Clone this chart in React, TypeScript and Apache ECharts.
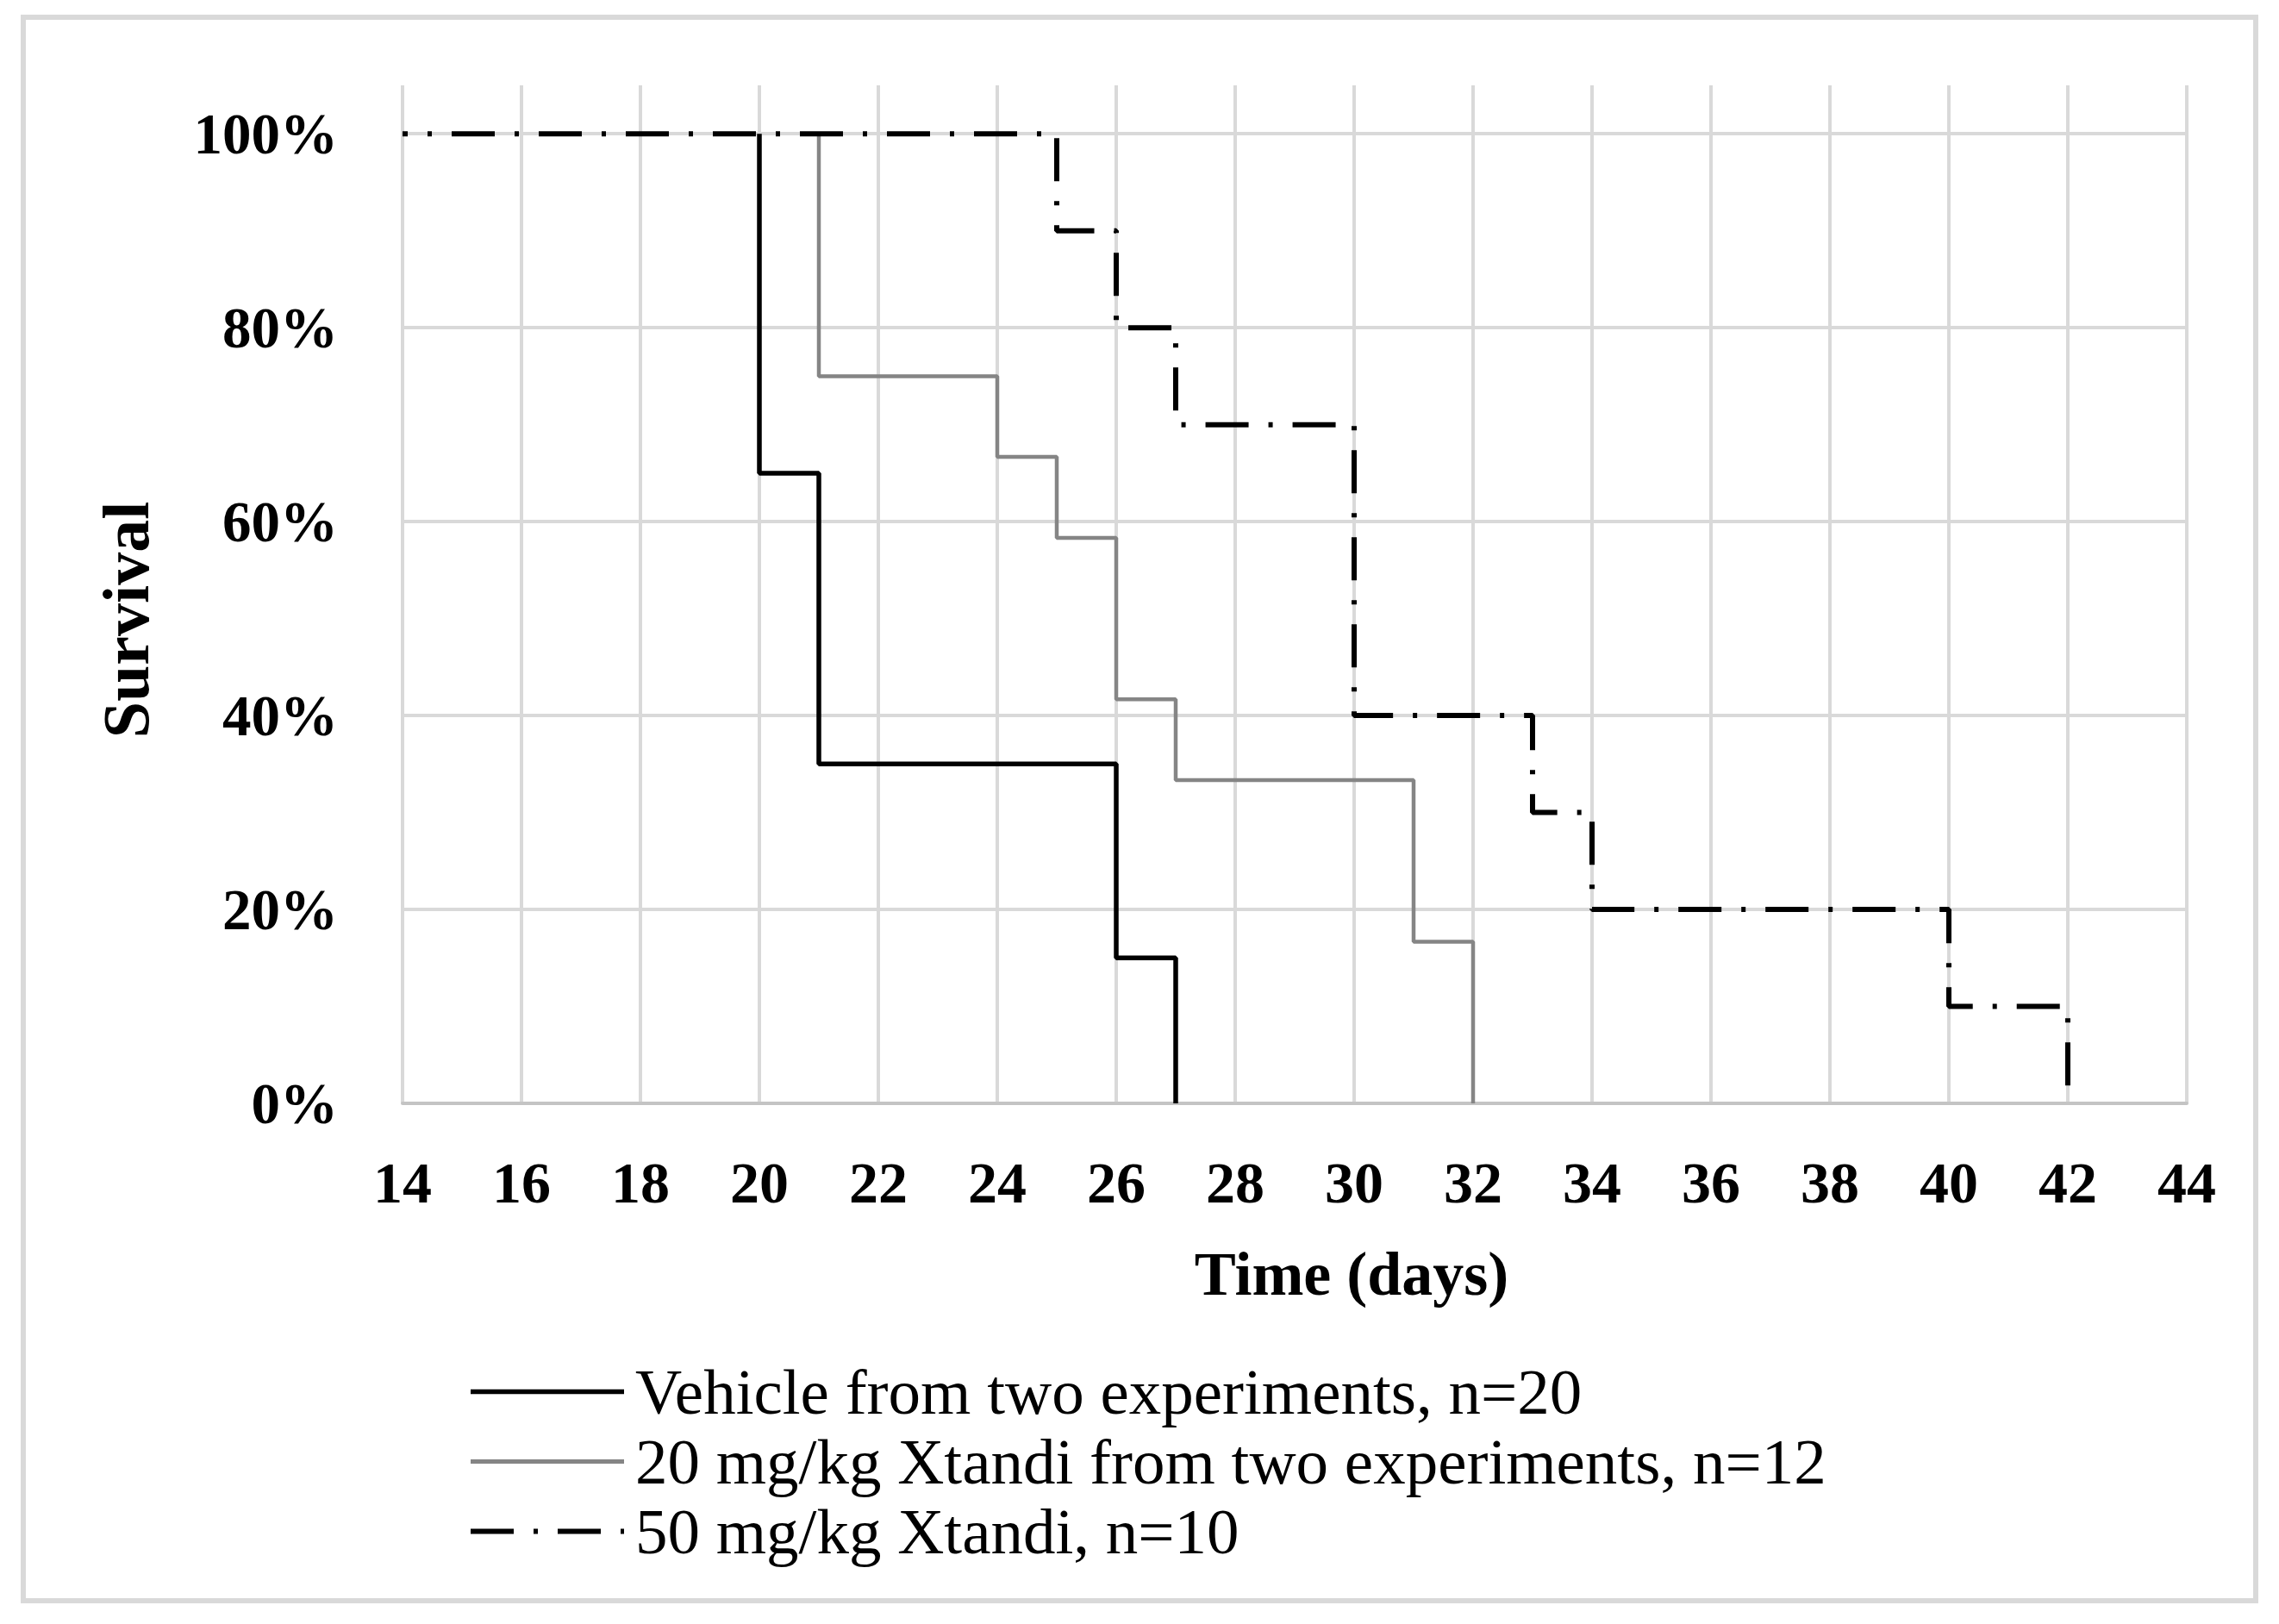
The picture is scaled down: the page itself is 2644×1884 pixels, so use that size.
import React, { useEffect, useRef } from "react";
import * as echarts from "echarts";

// ---- data ----
const xMin = 14;
const xMax = 44;
const xStep = 2;
const yTicks = [0, 0.2, 0.4, 0.6, 0.8, 1.0];

const seriesNames = [
  "Vehicle from two experiments, n=20",
  "20 mg/kg Xtandi from two experiments, n=12",
  "50 mg/kg Xtandi, n=10",
];

// Kaplan–Meier steps: curve starts at (start, 100%), then drops at each event day
const vehicleStart = 20;
const vehicleDays = [20, 21, 26, 27];
const vehicleSurvival = [0.65, 0.35, 0.15, 0];

const x20Start = 21;
const x20Days = [21, 24, 25, 26, 27, 31, 32];
const x20Survival = [0.75, 0.6667, 0.5833, 0.4167, 0.3333, 0.1667, 0];

const x50Start = 14;
const x50Days = [25, 26, 27, 30, 33, 34, 40, 42];
const x50Survival = [0.9, 0.8, 0.7, 0.4, 0.3, 0.2, 0.1, 0];

const build = (start: number, days: number[], surv: number[]) => [
  [start, 1],
  ...days.map((d, i) => [d, surv[i]]),
];

const FONT = "Liberation Serif";
const GRID = "#d9d9d9";
const GRAY = "#858585";
const DASHDOT = [50, 23, 5, 23];

export default function App() {
  const ref = useRef<HTMLDivElement>(null);
  useEffect(() => {
    if (!ref.current) return;
    const chart = echarts.init(ref.current, undefined, { renderer: "svg" });
    chart.setOption({
      animation: false,
      backgroundColor: "#ffffff",
      grid: { left: 467, right: 107, top: 99, bottom: 604, containLabel: false },
      xAxis: {
        type: "value",
        min: xMin,
        max: xMax,
        interval: xStep,
        axisLine: { show: true, lineStyle: { color: "#c4c4c4", width: 4 } },
        axisTick: { show: false },
        axisLabel: {
          margin: 58,
          color: "#000",
          fontFamily: FONT,
          fontWeight: "bold",
          fontSize: 68,
        },
        splitLine: { show: true, lineStyle: { color: GRID, width: 4 } },
      },
      yAxis: {
        type: "value",
        min: 0,
        max: 1.05,
        interval: 0.2,
        axisLine: { show: false },
        axisTick: { show: false },
        axisLabel: {
          margin: 75,
          color: "#000",
          fontFamily: FONT,
          fontWeight: "bold",
          fontSize: 67,
          showMaxLabel: false,
          formatter: (v: number) =>
            yTicks.some((t) => Math.abs(t - v) < 1e-6) ? Math.round(v * 100) + "%" : "",
        },
        splitLine: { show: true, showMaxLine: false, lineStyle: { color: GRID, width: 4 } },
      },
      legend: {
        show: true,
        orient: "vertical",
        left: 538,
        top: 1569,
        itemWidth: 178,
        itemHeight: 20,
        itemGap: 0,
        itemStyle: { color: "rgba(0,0,0,0)", borderWidth: 0, opacity: 0 },
        textStyle: {
          color: "#000",
          fontFamily: FONT,
          fontSize: 75,
          lineHeight: 81,
          padding: [0, 0, 0, 8],
        },
        data: [
          {
            name: seriesNames[0],
            itemStyle: { opacity: 0 },
            lineStyle: { color: "#000", width: 5.5, type: "solid", opacity: 1 },
          },
          {
            name: seriesNames[1],
            itemStyle: { opacity: 0 },
            lineStyle: { color: GRAY, width: 5, type: "solid", opacity: 1 },
          },
          {
            name: seriesNames[2],
            itemStyle: { opacity: 0 },
            lineStyle: { color: "#000", width: 6, type: DASHDOT, dashOffset: 0, opacity: 1 },
          },
        ],
      },
      series: [
        {
          name: seriesNames[1],
          type: "line",
          step: "end",
          symbol: "none",
          z: 3,
          lineStyle: { color: GRAY, width: 4.5, type: "solid", cap: "butt" },
          itemStyle: { color: GRAY },
          data: build(x20Start, x20Days, x20Survival),
        },
        {
          name: seriesNames[0],
          type: "line",
          step: "end",
          symbol: "none",
          z: 4,
          lineStyle: { color: "#000000", width: 5.5, type: "solid", cap: "butt" },
          itemStyle: { color: "#000000" },
          data: build(vehicleStart, vehicleDays, vehicleSurvival),
        },
        {
          name: seriesNames[2],
          type: "line",
          step: "end",
          symbol: "none",
          z: 5,
          lineStyle: {
            color: "#000000",
            width: 6,
            type: DASHDOT,
            dashOffset: 44,
            cap: "butt",
          },
          itemStyle: { color: "#000000" },
          data: build(x50Start, x50Days, x50Survival),
        },
      ],
      graphic: [
        {
          type: "rect",
          shape: { x: 27, y: 20, width: 2590, height: 1837 },
          style: { fill: "none", stroke: GRID, lineWidth: 6 },
          silent: true,
        },
        {
          type: "text",
          x: 1568,
          y: 1478,
          style: {
            text: "Time (days)",
            fill: "#000",
            font: `bold 72px "${FONT}"`,
            align: "center",
            verticalAlign: "middle",
          },
        },
        {
          type: "text",
          x: 146,
          y: 719,
          rotation: Math.PI / 2,
          style: {
            text: "Survival",
            fill: "#000",
            font: `bold 76px "${FONT}"`,
            align: "center",
            verticalAlign: "middle",
          },
        },
      ],
    });
    return () => chart.dispose();
  }, []);
  return (
    <div
      ref={ref}
      style={{ position: "fixed", left: 0, top: 0, width: 2644, height: 1884, background: "#fff" }}
    />
  );
}
